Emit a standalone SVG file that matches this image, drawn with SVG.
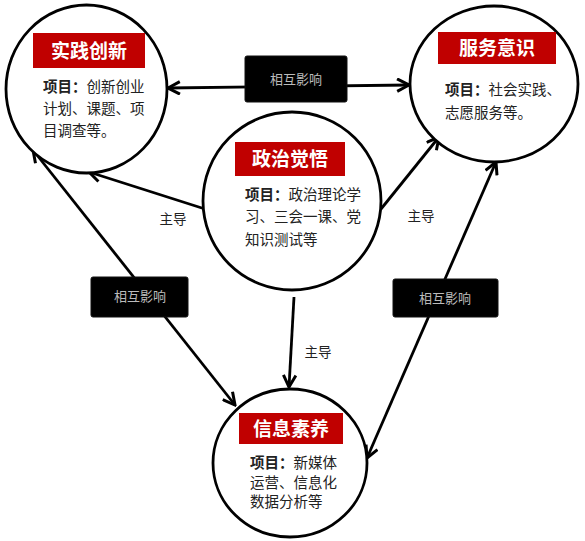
<svg xmlns="http://www.w3.org/2000/svg" width="585" height="541" viewBox="0 0 585 541">
<defs>
<marker id="arr" viewBox="0 0 12 12" refX="10.5" refY="6" markerWidth="15" markerHeight="15" markerUnits="userSpaceOnUse" orient="auto-start-reverse">
<path d="M1,1 L10.5,6 L1,11" fill="none" stroke="#000" stroke-width="2.4" stroke-linejoin="miter"/>
</marker>
<style>
.c{fill:#fff;stroke:#000;stroke-width:2.8}
.t{fill:#c00000}
.tt{font-family:"Noto Sans CJK SC",sans-serif;font-size:19px;font-weight:bold;fill:#fff;text-anchor:middle}
.b{font-family:"Noto Sans CJK SC",sans-serif;font-size:14.5px;fill:#222}
.b tspan.k{font-weight:bold}
.ln{stroke:#000;stroke-width:2.8;fill:none;marker-end:url(#arr)}
.dl{marker-start:url(#arr)}
.bx{fill:#000;stroke:#111;stroke-width:1}
.bt{font-family:"Noto Sans CJK SC",sans-serif;font-size:13px;fill:#bbb;text-anchor:middle}
.lb{font-family:"Noto Sans CJK SC",sans-serif;font-size:13.5px;fill:#222;text-anchor:middle}
</style>
</defs>
<rect width="585" height="541" fill="#fff"/>
<g id="connectors">
<line class="ln dl" x1="168" y1="88" x2="409" y2="85"/>
<line class="ln" x1="205" y1="209" x2="89" y2="172"/>
<line class="ln" x1="381" y1="209" x2="439" y2="137"/>
<line class="ln" x1="294" y1="297" x2="289" y2="387"/>
<line class="ln dl" x1="33" y1="150" x2="235" y2="405"/>
<line class="ln dl" x1="496" y1="162" x2="367" y2="458"/>
</g>
<g id="node-shijian">
<ellipse class="c" cx="86.5" cy="89" rx="80.5" ry="84"/>
<rect class="t" x="33" y="33" width="112" height="35"/>
<text class="tt" x="89" y="57.5">实践创新</text>
<text class="b"><tspan x="43" y="92"><tspan class="k">项目：</tspan>创新创业</tspan><tspan x="43" y="114">计划、课题、项</tspan><tspan x="43" y="136">目调查等。</tspan></text>
</g>
<g id="node-fuwu">
<ellipse class="c" cx="494" cy="84" rx="84" ry="78"/>
<rect class="t" x="438" y="32" width="118" height="32"/>
<text class="tt" x="497" y="54.5">服务意识</text>
<text class="b"><tspan x="445" y="95"><tspan class="k">项目：</tspan>社会实践、</tspan><tspan x="445" y="118">志愿服务等。</tspan></text>
</g>
<g id="node-zhengzhi">
<ellipse class="c" cx="292" cy="201" rx="89" ry="89"/>
<rect class="t" x="235" y="142" width="110" height="34"/>
<text class="tt" x="290" y="165.5">政治觉悟</text>
<text class="b"><tspan x="245" y="200"><tspan class="k">项目：</tspan>政治理论学</tspan><tspan x="245" y="222">习、三会一课、党</tspan><tspan x="245" y="245">知识测试等</tspan></text>
</g>
<g id="node-xinxi">
<ellipse class="c" cx="290" cy="463" rx="77" ry="74"/>
<rect class="t" x="239" y="413" width="104" height="31"/>
<text class="tt" x="291" y="435.5">信息素养</text>
<text class="b"><tspan x="250" y="468"><tspan class="k">项目：</tspan>新媒体</tspan><tspan x="250" y="488">运营、信息化</tspan><tspan x="250" y="507">数据分析等</tspan></text>
</g>
<g id="label-top">
<rect class="bx" x="245" y="56" width="102" height="46" rx="2"/>
<text class="bt" x="296" y="83.5">相互影响</text>
</g>
<g id="label-left">
<rect class="bx" x="91" y="277" width="97" height="40" rx="2"/>
<text class="bt" x="140" y="301">相互影响</text>
</g>
<g id="label-right">
<rect class="bx" x="393" y="279" width="105" height="38" rx="2"/>
<text class="bt" x="445" y="302.5">相互影响</text>
</g>
<g id="labels">
<text class="lb" x="173" y="224">主导</text>
<text class="lb" x="421" y="221">主导</text>
<text class="lb" x="318" y="357">主导</text>
</g>
</svg>
